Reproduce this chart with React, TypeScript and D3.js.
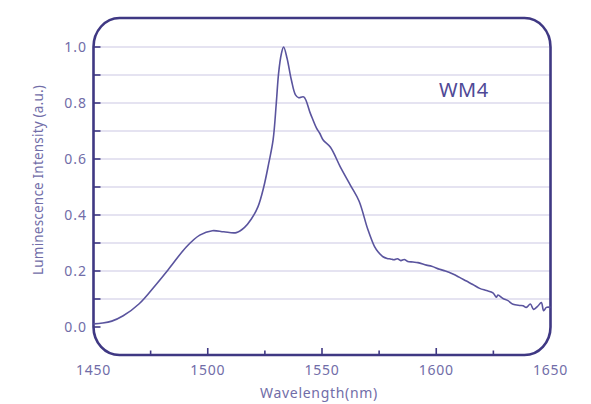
import React, { useEffect, useRef } from 'react';
import * as d3 from 'd3';

// spectrum
const wavelength = [
  1450, 1454, 1458, 1463, 1470, 1477.5, 1483.5, 1490.5, 1496.5, 1502, 1507, 1512.5,
  1516, 1519, 1522, 1524.5, 1526.7, 1528.6, 1530, 1531, 1532.2, 1533.2, 1534.7, 1536.6,
  1538.4, 1539.8, 1542, 1544.9, 1547.6, 1549, 1550.5, 1553.7, 1558, 1562.4, 1566.2,
  1570, 1573, 1574.5, 1576.7, 1578.5, 1580, 1581.5, 1583, 1584.5, 1586, 1587.5, 1589.8,
  1592, 1595.7, 1598, 1601.5, 1604, 1607.3, 1610, 1613.2, 1616, 1619, 1622, 1624.8,
  1626.3, 1627, 1629.2, 1631.4, 1633.6, 1636.5, 1638, 1639.4, 1641.2, 1642.6, 1644.5,
  1646, 1647, 1648.2, 1650,
];
const intensity = [
  0.011, 0.014, 0.021, 0.04, 0.083, 0.153, 0.213, 0.285, 0.328, 0.344, 0.34, 0.337,
  0.355, 0.385, 0.43, 0.5, 0.585, 0.668, 0.8, 0.906, 0.975, 1.0, 0.96, 0.882,
  0.829, 0.819, 0.822, 0.763, 0.71, 0.692, 0.668, 0.642, 0.572, 0.507, 0.45,
  0.35, 0.287, 0.269, 0.251, 0.245, 0.243, 0.24, 0.244, 0.237, 0.241, 0.234, 0.232,
  0.23, 0.221, 0.217, 0.206, 0.2, 0.189, 0.178, 0.164, 0.152, 0.138, 0.13, 0.122,
  0.106, 0.114, 0.102, 0.094, 0.081, 0.077, 0.076, 0.07, 0.082, 0.063, 0.075,
  0.087, 0.058, 0.07, 0.07,
];
const xTicks = [1450, 1500, 1550, 1600, 1650];
const yTicks = [0.0, 0.2, 0.4, 0.6, 0.8, 1.0];
const seriesName = 'WM4';

const FONT = '"Noto Sans", sans-serif';

export default function App() {
  const ref = useRef<SVGSVGElement>(null);

  useEffect(() => {
    const svg = d3.select(ref.current);
    svg.selectAll('*').remove();

    const x = d3.scaleLinear().domain([1450, 1650]).range([93.5, 550.5]);
    const y = d3.scaleLinear().domain([0, 1]).range([327, 47]);

    const frameCol = '#3f3883';
    const lineCol = '#5a549e';
    const gridCol = '#cbc8e4';
    const textCol = '#716da8';

    // gridlines every 0.1
    const grid = d3.range(1, 11).map(i => i / 10);
    svg.append('g')
      .selectAll('line')
      .data(grid)
      .join('line')
      .attr('x1', x(1450)).attr('x2', x(1650))
      .attr('y1', d => y(d)).attr('y2', d => y(d))
      .attr('stroke', gridCol)
      .attr('stroke-width', 1.2);

    // rounded frame
    const L = x(1450), R = x(1650), T = y(1) - 29, B = y(0) + 28;
    const rx = 26, top = y(1), bot = y(0);
    const frame = `M${L},${top} A${rx},${top - T} 0 0 1 ${L + rx},${T} L${R - rx},${T} A${rx},${top - T} 0 0 1 ${R},${top} L${R},${bot} A${rx},${B - bot} 0 0 1 ${R - rx},${B} L${L + rx},${B} A${rx},${B - bot} 0 0 1 ${L},${bot} Z`;
    svg.append('path')
      .attr('d', frame)
      .attr('fill', 'none')
      .attr('stroke', frameCol)
      .attr('stroke-width', 2.6);

    // y ticks (inside)
    svg.append('g')
      .selectAll('line')
      .data(d3.range(0, 11).map(i => i / 10))
      .join('line')
      .attr('x1', L).attr('x2', L + 7)
      .attr('y1', d => y(d)).attr('y2', d => y(d))
      .attr('stroke', frameCol)
      .attr('stroke-width', 1.6);

    // x ticks (inside, from bottom)
    svg.append('g')
      .selectAll('line')
      .data(d3.range(1475, 1650, 25))
      .join('line')
      .attr('x1', d => x(d)).attr('x2', d => x(d))
      .attr('y1', B).attr('y2', d => B - (d % 50 === 0 ? 7 : 4.5))
      .attr('stroke', frameCol)
      .attr('stroke-width', 1.6);

    // tick labels
    svg.append('g')
      .selectAll('text')
      .data(yTicks)
      .join('text')
      .attr('x', 87)
      .attr('y', d => y(d) + 5)
      .attr('text-anchor', 'end')
      .attr('font-family', FONT)
      .attr('font-size', 14)
      .attr('letter-spacing', 1)
      .attr('fill', textCol)
      .text(d => d3.format('.1f')(d));

    svg.append('g')
      .selectAll('text')
      .data(xTicks)
      .join('text')
      .attr('x', d => x(d))
      .attr('y', 375)
      .attr('text-anchor', 'middle')
      .attr('font-family', FONT)
      .attr('font-size', 14)
      .attr('letter-spacing', 0.8)
      .attr('fill', textCol)
      .text(d => d);

    // axis titles
    svg.append('text')
      .attr('x', 319)
      .attr('y', 398)
      .attr('text-anchor', 'middle')
      .attr('font-family', FONT)
      .attr('font-size', 14)
      .attr('letter-spacing', 0.7)
      .attr('fill', textCol)
      .text('Wavelength(nm)');

    svg.append('text')
      .attr('transform', 'translate(43,180) rotate(-90)')
      .attr('text-anchor', 'middle')
      .attr('font-family', FONT)
      .attr('font-size', 13.5)
      .attr('letter-spacing', 0.2)
      .attr('fill', textCol)
      .text('Luminescence Intensity (a.u.)');

    // spectrum
    const pts: [number, number][] = wavelength.map((w, i) => [w, intensity[i]]);
    const line = d3.line<[number, number]>()
      .x(d => x(d[0]))
      .y(d => y(d[1]))
      .curve(d3.curveCatmullRom.alpha(0.5));
    svg.append('path')
      .attr('d', line(pts))
      .attr('fill', 'none')
      .attr('stroke', lineCol)
      .attr('stroke-width', 1.6);

    // series label
    svg.append('text')
      .attr('x', 439)
      .attr('y', 97)
      .attr('font-family', FONT)
      .attr('font-size', 20)
      .attr('letter-spacing', 0.5)
      .attr('fill', '#4f4996')
      .text(seriesName);
  }, []);

  return (
    <svg ref={ref} width={591} height={404}
      style={{ position: 'absolute', left: 0, top: 0, background: '#fff' }} />
  );
}
